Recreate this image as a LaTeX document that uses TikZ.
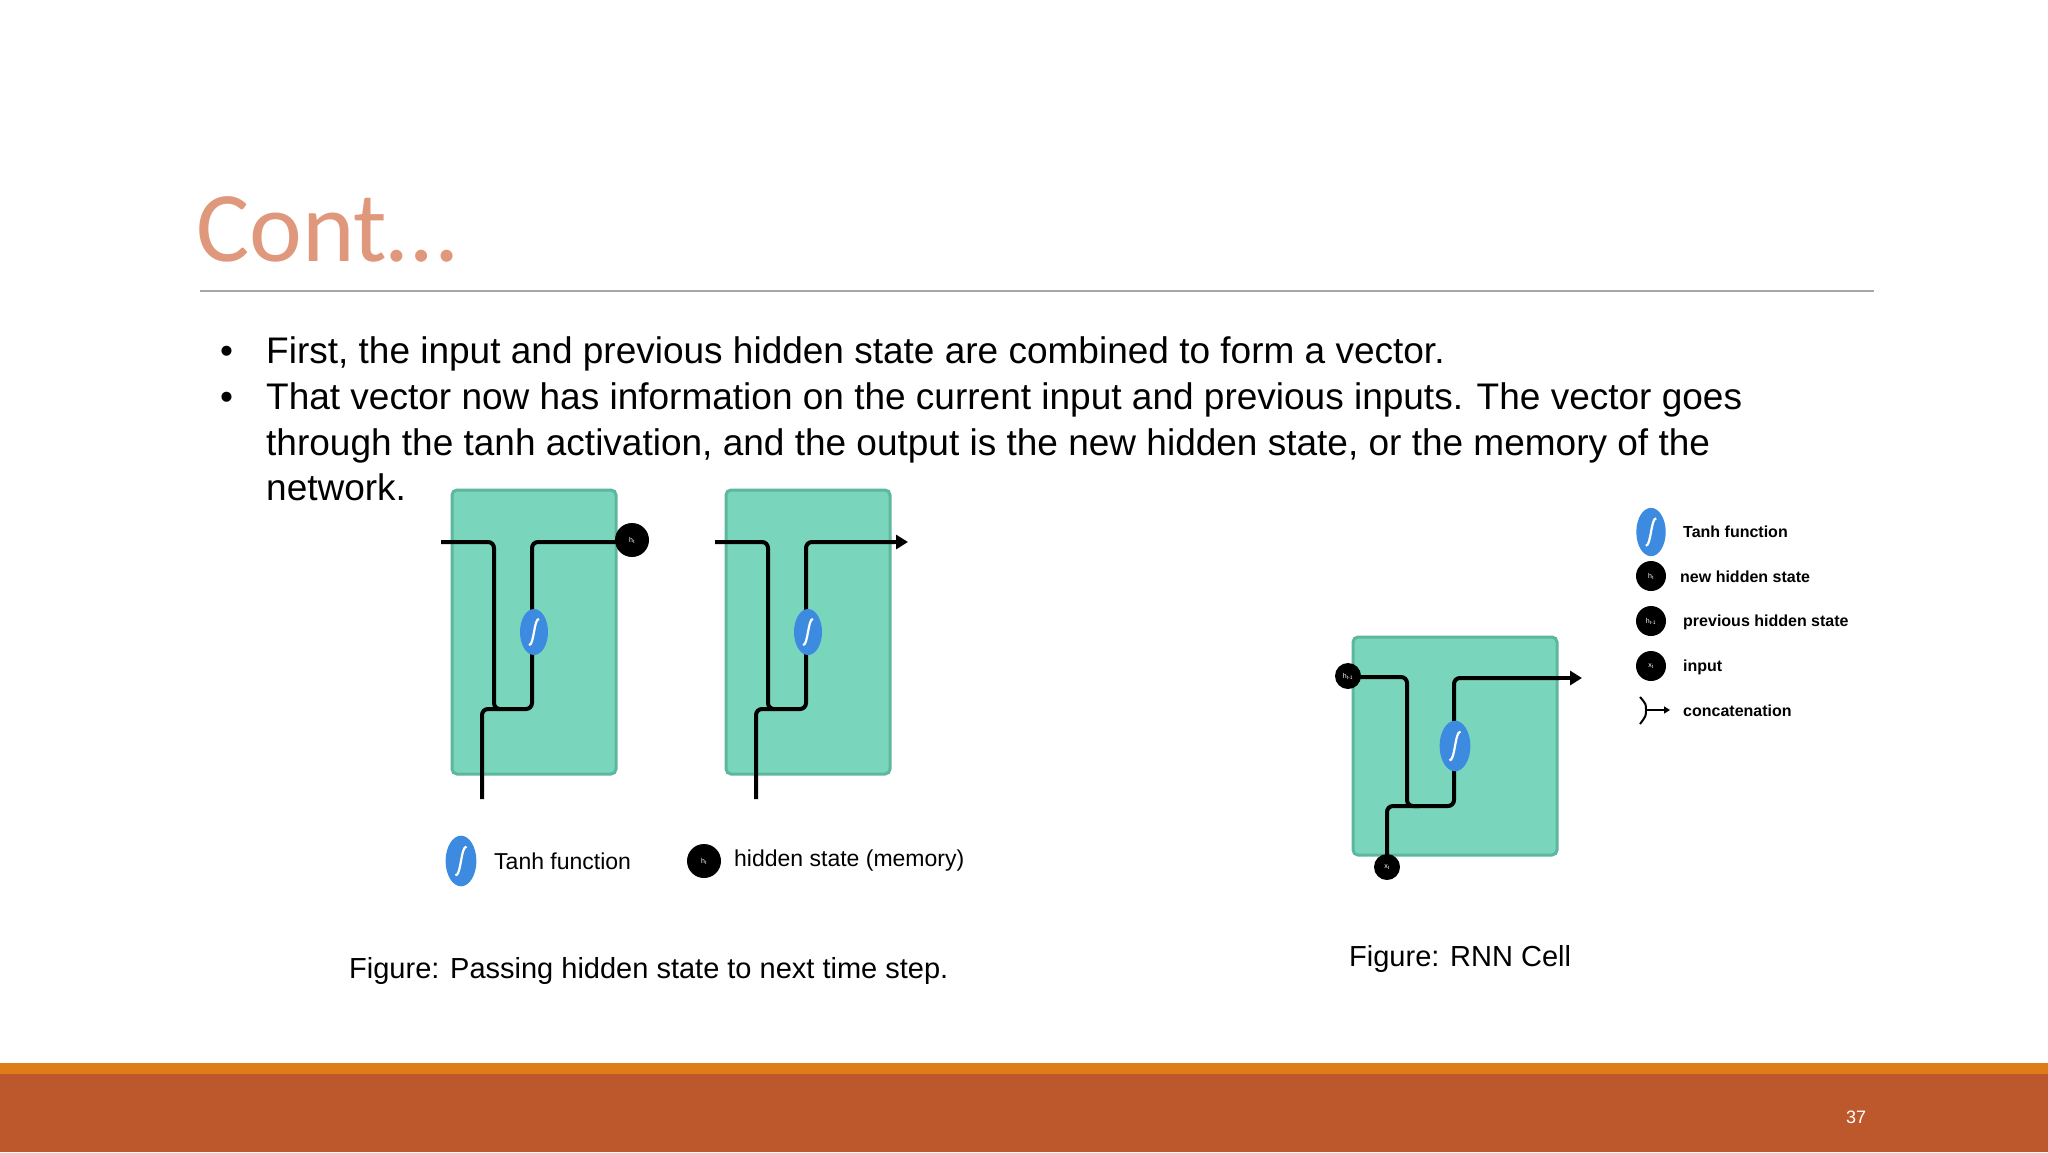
\documentclass[tikz,border=0pt]{standalone}
\usepackage{fontspec}
\setmainfont{Liberation Sans}
\newfontfamily\titlefont{Carlito}
\usetikzlibrary{arrows.meta,calc}
\definecolor{cellg}{HTML}{79D6BC}
\definecolor{celledge}{HTML}{5DB79E}
\definecolor{tanhb}{HTML}{3D8BE0}
\definecolor{titlec}{HTML}{E0987C}
\definecolor{barc}{HTML}{BC582C}
\definecolor{stripec}{HTML}{E07B1A}
\tikzset{
  cell/.style={draw=celledge,line width=3pt,fill=cellg,rounded corners=5pt},
  wire/.style={line width=4pt,rounded corners=6pt},
  hdot/.style={circle,fill=black,inner sep=0pt,minimum size=#1,text=white,font=\fontsize{7}{8}\selectfont},
  hdot/.default=34pt,
  body/.style={font=\fontsize{37}{44}\selectfont,anchor=base west,inner sep=0pt},
  figcap/.style={font=\fontsize{29}{34}\selectfont,anchor=base west,inner sep=0pt},
  legA/.style={font=\fontsize{23}{26}\selectfont,anchor=west,inner sep=0pt},
  legB/.style={font=\bfseries\fontsize{16}{18}\selectfont,anchor=west,inner sep=0pt},
}
\newcommand{\tanhsym}[2]{% center, scale
  \fill[tanhb] (#1) ellipse ({14*#2} and {23*#2});
  \draw[white,line width=2.2pt] ($(#1)+({-5*#2},{13*#2})$) .. controls ($(#1)+({0*#2},{14*#2})$) and ($(#1)+({0*#2},{-14*#2})$) .. ($(#1)+({5*#2},{-13*#2})$);
}
\begin{document}
\begin{tikzpicture}[x=1pt,y=-1pt]
\useasboundingbox (0,0) rectangle (2048,1152);
\fill[white] (0,0) rectangle (2048,1152);
% title
\node[font=\titlefont\fontsize{100}{110}\selectfont,text=titlec,anchor=base west,inner sep=0pt] (title) at (196,261) {Cont…};
\draw[gray!70,line width=1.5pt] (200,291) -- (1874,291);
% bullets
\node[body] (b1) at (220,363) {•};
\node[body] (t1) at (266,363) {First, the input and previous hidden state are combined to form a vector.};
\node[body] (b2) at (220,409) {•};
\node[body] (t2) at (266,409) {That vector now has information on the current input and previous inputs. The vector goes};
\node[body] (t3) at (266,455) {through the tanh activation, and the output is the new hidden state, or the memory of the};
\node[body] (t4) at (266,500) {network.};
% left diagram, box 1
\draw[cell] (452,490) rectangle (616,774);
\draw[wire] (441,542) -- (494,542) -- (494,709) -- (532,709) -- (532,542) -- (640,542);
\draw[wire] (482,799) -- (482,709) -- (500,709);
\tanhsym{534,632}{1}
\node[hdot] (h1) at (632,540) {h\textsubscript{t}};
% box 2
\draw[cell] (726,490) rectangle (890,774);
\draw[wire] (715,542) -- (768,542) -- (768,709) -- (806,709) -- (806,542) -- (895,542);
\draw[line width=4pt,-{Triangle[length=12pt,width=14pt]}] (880,542) -- (908,542);
\draw[wire] (756,799) -- (756,709) -- (774,709);
\tanhsym{808,632}{1}
% legend left
\tanhsym{461,861}{1.1}
\node[legA] (ltanh) at (494,861) {Tanh function};
\node[hdot=34pt] (lh) at (704,861) {h\textsubscript{t}};
\node[legA] (lhid) at (734,861) {hidden state (memory)};
\node[figcap] (cap1) at (349,978) {Figure: Passing hidden state to next time step.};
% right diagram
\draw[cell] (1353,637) rectangle (1557,855);
\draw[wire] (1348,677) -- (1407,677) -- (1407,806) -- (1454,806) -- (1454,678) -- (1560,678);
\draw[line width=4pt,-{Triangle[length=12pt,width=14pt]}] (1550,678) -- (1582,678);
\draw[wire] (1387,867) -- (1387,806) -- (1420,806);
\tanhsym{1455,746}{1.1}
\node[hdot=26pt] (rh) at (1348,676) {h\textsubscript{t-1}};
\node[hdot=26pt] (rx) at (1387,867) {x\textsubscript{t}};
% legend right
\tanhsym{1651,532}{1.05}
\node[legB] (r1) at (1683,532) {Tanh function};
\node[hdot=30pt] (d2) at (1651,576) {h\textsubscript{t}};
\node[legB] (r2) at (1680,577) {new hidden state};
\node[hdot=30pt] (d3) at (1651,621) {h\textsubscript{t-1}};
\node[legB] (r3) at (1683,622) {previous hidden state};
\node[hdot=30pt] (d4) at (1651,666) {x\textsubscript{t}};
\node[legB] (r4) at (1683,667) {input};
\coordinate (cc) at (1645,710);
\draw[line width=2pt] (1640,697) .. controls (1646,704) .. (1646,710) .. controls (1646,716) .. (1640,724);
\draw[line width=2pt,-{Triangle[length=6pt,width=7pt]}] (cc) -- (1670,710);
\node[legB] (r5) at (1683,711) {concatenation};
\node[figcap] (cap2) at (1349,966) {Figure: RNN Cell};
% bottom bar
\fill[stripec] (0,1063) rectangle (2048,1074);
\fill[barc] (0,1074) rectangle (2048,1152);
\node[text=white,font=\fontsize{18}{20}\selectfont,inner sep=0pt] (pg) at (1856,1117) {37};
\end{tikzpicture}
\end{document}
